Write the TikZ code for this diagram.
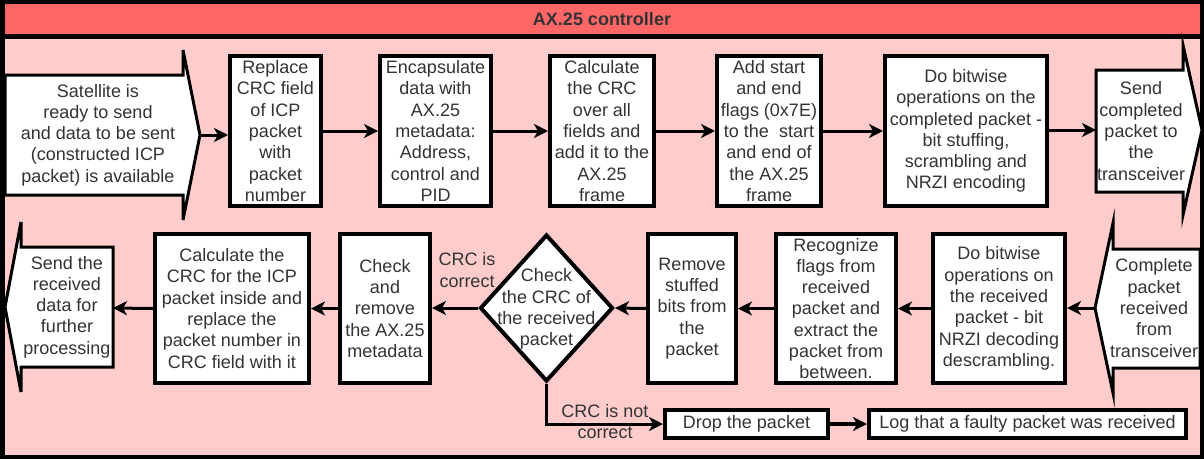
\documentclass[tikz,border=0pt]{standalone}
\usepackage{fontspec}
\setmainfont{Liberation Sans}
\usetikzlibrary{arrows.meta,calc,shapes.geometric}
\definecolor{TitleClr}{rgb}{1,0.4,0.4}
\definecolor{LaneClr}{rgb}{1,0.8,0.8}
\definecolor{TextClr}{rgb}{0.2,0.2,0.2}

\begin{document}
\begin{tikzpicture}[x=1pt,y=-1pt,
  txt/.style={text=TextClr,font=\fontsize{18}{21.3}\selectfont,align=center,inner sep=0pt},
  box/.style={txt,draw=black,fill=white,line width=4pt,inner sep=2pt},
  shp/.style={draw=black,fill=white,line width=3pt},
  flow/.style={draw=black,line width=3pt,-{Stealth[length=14pt,width=14pt,inset=4pt]}}]
\useasboundingbox (0,0) rectangle (1204,459);

\fill[black] (0,0) rectangle (1204,459);
\fill[TitleClr] (5,4) rectangle (1200,34);
\fill[LaneClr] (5,39) rectangle (1200,455);
\node[txt,font=\fontsize{18}{21.3}\selectfont\bfseries] (T) at (602,19) {AX.25 controller};

% sending side
\draw[shp] (5,75) -- (183,75) -- (183,50) -- (200,135) -- (183,220) -- (183,195) -- (5,195) -- cycle;
\coordinate (S) at (200,135);
\node[txt] (St) at (98,135) {Satellite is\\ready to send\\and data to be sent\\(constructed ICP\\packet) is available};

\node[box,minimum width=91pt,minimum height=150pt] (R) at (275.5,131) {Replace\\CRC field\\of ICP\\packet\\with\\packet\\number};
\node[box,minimum width=111pt,minimum height=150pt] (E) at (435.5,131) {Encapsulate\\data with\\AX.25\\metadata:\\Address,\\control and\\PID};
\node[box,minimum width=104pt,minimum height=150pt] (K) at (602,131) {Calculate\\the CRC\\over all\\fields and\\add it to the\\AX.25\\frame};
\node[box,minimum width=104pt,minimum height=150pt] (F) at (769,131) {Add start\\and end\\flags (0x7E)\\to the\ \ start\\and end of\\the AX.25\\frame};
\node[box,minimum width=162pt,minimum height=150pt] (B) at (966,131) {Do bitwise\\operations on the\\completed packet -\\bit stuffing,\\scrambling and\\NRZI encoding};

\draw[shp] (1096,70) -- (1183,70) -- (1183,45) -- (1202,130) -- (1183,215) -- (1183,192) -- (1096,192) -- cycle;
\coordinate (Z) at (1096,130);
\node[txt] (Zt) at (1141,131) {Send\\completed\\packet to\\the\\transceiver};

\draw[flow] (S) -- (S -| R.west);
\draw[flow] (R) -- (E);
\draw[flow] (E) -- (K);
\draw[flow] (K) -- (F);
\draw[flow] (F) -- (B);
\draw[flow] (B.east |- Z) -- (Z);

% receiving side
\draw[shp] (1200,249) -- (1113,249) -- (1113,223) -- (1095,308) -- (1113,393) -- (1113,368) -- (1200,368) -- cycle;
\coordinate (C) at (1095,308);
\node[txt] (Ct) at (1154,308) {Complete\\packet\\received\\from\\transceiver};

\node[box,minimum width=132pt,minimum height=149pt] (X) at (999,308.5) {Do bitwise\\operations on\\the received\\packet - bit\\NRZI decoding\\descrambling.};
\node[box,minimum width=120pt,minimum height=149pt] (G) at (836,308.5) {Recognize\\flags from\\received\\packet and\\extract the\\packet from\\between.};
\node[box,minimum width=88pt,minimum height=149pt] (U) at (692,308.5) {Remove\\stuffed\\bits from\\the\\packet};
\node[diamond,draw=black,fill=white,line width=4pt,minimum width=133pt,minimum height=147pt,inner sep=0pt] (D) at (546.5,308) {};
\node[txt] (Dt) at (546.5,309) {Check\\the CRC of\\the received\\packet};
\node[box,minimum width=90pt,minimum height=149pt] (M) at (385,308.5) {Check\\and\\remove\\the AX.25\\metadata};
\node[box,minimum width=154pt,minimum height=149pt] (P) at (232,308.5) {Calculate the\\CRC for the ICP\\packet inside and\\replace the\\packet number in\\CRC field with it};

\draw[shp] (113,247) -- (21,247) -- (21,222) -- (5,307) -- (21,392) -- (21,367) -- (113,367) -- cycle;
\coordinate (W) at (113,308);
\node[txt] (Wt) at (67,307) {Send the\\received\\data for\\further\\processing};

\node[box,minimum width=163pt,minimum height=28pt] (Dr) at (746.5,424) {Drop the packet};
\node[box,minimum width=317pt,minimum height=28pt] (L) at (1027.5,424) {Log that a faulty packet was received};

\draw[flow] (C) -- (C -| X.east);
\draw[flow] (X) -- (G);
\draw[flow] (G) -- (U);
\draw[flow] (U.west) -- (D.east);
\draw[flow] (D.west) -- (M.east |- D.west);
\draw[flow] (M) -- (P);
\draw[flow] (P.west) -- (W);
\draw[flow] (D.south) |- (Dr.west);
\draw[flow,line width=4pt] (Dr) -- (L);

\node[txt] (Ok) at (467,270) {CRC is\\correct};
\node[txt] (No) at (605,421.5) {CRC is not\\correct};

\end{tikzpicture}
\end{document}
